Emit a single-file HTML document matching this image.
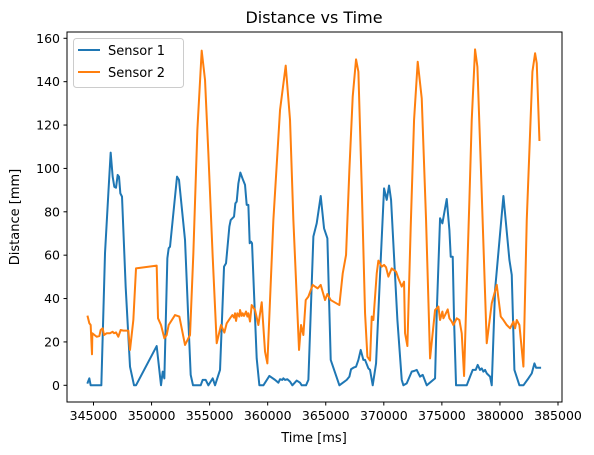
<!DOCTYPE html>
<html><head><meta charset="utf-8"><style>
html,body{margin:0;padding:0;background:#fff;}
svg{display:block;font-family:"DejaVu Sans","Liberation Sans",sans-serif;}
</style></head><body>
<svg id="chart" width="594" height="455" viewBox="0 0 594 455">
<rect x="0" y="0" width="594" height="455" fill="#fff"/>
<text x="314" y="23" text-anchor="middle" font-size="16" fill="#000">Distance vs Time</text>
<g id="xaxis"></g>
<g id="yaxis"></g>
<g id="series"></g>
<rect x="67" y="32" width="495" height="370" fill="none" stroke="#000" stroke-width="1"/>
<text x="314" y="442" text-anchor="middle" font-size="13">Time [ms]</text>
<text x="0" y="0" transform="translate(19,217) rotate(-90)" text-anchor="middle" font-size="13">Distance [mm]</text>
<g>
<rect x="73.5" y="38.5" width="110" height="49" rx="3" fill="#fff" fill-opacity="0.8" stroke="#ccc"/>
<g>
<line x1="78" y1="50" x2="100" y2="50" stroke="#1f77b4" stroke-width="2"/>
<text x="108" y="55" font-size="13">Sensor 1</text></g>
<g>
<line x1="78" y1="72" x2="100" y2="72" stroke="#ff7f0e" stroke-width="2"/>
<text x="108" y="77" font-size="13">Sensor 2</text></g>
</g>
</svg>
<script>
const xTicks=[345000,350000,355000,360000,365000,370000,375000,380000,385000];
const yTicks=[0,20,40,60,80,100,120,140,160];
const s1Time=[344498,344641,344756,345675,345991,346278,346479,346651,346795,346938,347082,347197,347312,347455,347771,348144,348489,348661,350441,350814,350958,351101,351360,351474,351589,351819,352192,352364,352881,353168,353369,353570,354231,354403,354661,354891,355264,355466,355896,356241,356413,356700,356815,357102,357216,357331,357475,357647,357877,358049,358193,358336,358451,358566,358652,358824,359054,359284,359629,360145,360633,360920,361064,361265,361351,361494,361695,361925,362126,362499,362786,362930,363303,363504,363935,364222,364566,364853,365140,365428,366174,366805,367035,367179,367380,367609,367810,368011,368241,368385,368672,368815,369045,369332,369734,370021,370251,370452,370624,371170,371543,371686,371973,372404,372605,372835,373122,373351,373696,374413,374557,374844,375045,375418,375648,375762,375934,376049,376221,377140,377427,377657,377915,378087,378288,378432,378576,378719,378863,379150,379294,379581,380299,380816,381017,381246,381677,382022,382453,382740,382970,383113,383458];
const s1Dist=[1.2,3.2,0,0,60.9,88.5,107.3,96.2,91.5,91.1,97,96.2,88.5,87,45.3,8.6,0,0,18.1,0,6.3,3.2,58.6,63.2,63.9,76.2,96.2,94.7,67,30.1,4.8,0,0,2.5,2.5,0,3.2,0,7.1,54.7,56.3,73.2,76.2,77.8,83.9,84.7,93.1,98.1,94.7,92.4,83.2,83.2,65.5,66.2,65.5,42.4,12.4,0,0,4.3,2.5,1.2,2.8,2.5,3.2,2.5,2.8,1.7,0,2.2,1.2,0,0,2.5,68.6,74.7,87.3,72.4,67.8,11.7,0,2.5,4,7.4,8.1,8.6,11.7,16.3,11.7,11.7,7.8,7.1,0,10.1,57.8,90.8,85.5,92.1,85.5,30.1,2.5,0,0.9,6.3,6.6,7.1,4,4.8,0,3.2,33.2,77,74.7,85.9,71.6,59.3,59.3,30.1,0,0,4,7.1,7.1,9.4,7.1,7.8,6.3,7.1,5.5,4,0,44,87.3,57.8,50.9,7.1,0,0,3.2,5.5,10.1,8.1,8.1];
const s2Time=[344498,344641,344756,344871,344900,345273,345503,345618,345790,345905,346134,346421,346651,346766,346938,347139,347340,347570,348001,348144,348431,348661,350441,350556,350814,351101,351302,351474,352020,352393,352881,353312,353599,353944,354317,354604,354891,355264,355609,355982,356269,356470,356757,356958,357102,357188,357274,357389,357561,357618,357762,357848,357963,358135,358250,358336,358479,358623,358910,359198,359485,359772,359973,360489,361064,361552,361925,362212,362499,362700,362872,363073,363274,363504,363877,364078,364308,364566,364939,365140,365428,366174,366461,366748,367035,367322,367609,367810,368098,368385,368586,368815,368959,369102,369390,369533,369820,370021,370193,370394,370681,371055,371256,371543,371743,371829,372030,372317,372605,372920,373265,373638,373983,374413,374700,374844,375045,375131,375275,375504,375648,375849,375992,376279,376509,376710,376911,377140,377370,377571,377858,378059,378346,378719,378863,379294,379725,380069,380299,380586,380874,381161,381304,381448,381677,382022,382309,382797,383027,383170,383400];
const s2Dist=[31.7,28.6,27.8,14.3,24,22.4,22.7,25.5,26.3,23.2,24,24,24.7,24,24.4,22.4,25.5,25.2,25.2,16.3,30.1,53.9,55.2,30.9,27.8,21.7,23.2,27.8,32.4,31.7,18.6,23.2,60.9,117.7,154.3,140.8,107,59.3,19.4,27.8,24.3,28.6,30.9,32.4,31.2,33.2,29.7,33.2,31.7,34.7,32,33.2,32,34,31.7,33.2,29.4,37,34.7,27.8,38.3,15.5,10.1,76.2,127,147.4,122.3,76.2,40.9,16.3,27.8,23.2,39.3,40.9,46.3,45.5,44.7,46.3,39.3,42.1,39.3,37,51.6,60.1,99.3,133.1,150.3,144.6,91.6,33.2,13.2,11.4,31.7,30.1,51.6,57.5,54.7,55.5,54.4,50.1,53.9,52.4,49.3,45.5,47.8,24,18.1,73.2,122.3,149.2,132.3,76.2,12.4,34.7,36.3,30.1,34,30.9,32.4,35,30.9,29.4,27.8,30.9,30.1,24,4.3,45.5,85.5,122.3,154.9,146.9,102.4,42.4,19.4,37.8,46.3,31.7,30.1,27.8,26.3,29.4,26.3,30.1,27.8,8.6,76.2,144.6,153.1,148.5,113.1];

const NS='http://www.w3.org/2000/svg';
const X0=93.5,X1=558,T0=345000,T1=385000,Y0=385.3,Y1=38.3;
function xs(t){return X0+(t-T0)*(X1-X0)/(T1-T0);}
function ys(v){return Y0+v*(Y1-Y0)/160;}
function mk(tag,attrs,parent){const e=document.createElementNS(NS,tag);for(const k in attrs)e.setAttribute(k,attrs[k]);parent.appendChild(e);return e;}
const xa=document.getElementById('xaxis'),ya=document.getElementById('yaxis'),sg=document.getElementById('series');
xTicks.forEach(t=>{
  const x=xs(t);
  const tk=mk('line',{x1:x,x2:x,y1:402,y2:405.5,stroke:'#000','stroke-width':1},xa);
  
  
  const lb=mk('text',{x:x,y:420,'text-anchor':'middle','font-size':'12.5'},xa);
  lb.textContent=String(t);
  
  
});
yTicks.forEach(v=>{
  const y=ys(v);
  const tk=mk('line',{x1:63.5,x2:67,y1:y,y2:y,stroke:'#000','stroke-width':1},ya);
  
  
  const lb=mk('text',{x:60,y:y+4.5,'text-anchor':'end','font-size':'12.5'},ya);
  lb.textContent=String(v);
  
  
});
function line(ts,vs,color,name){
  const d=ts.map((t,i)=>(i?'L':'M')+xs(t).toFixed(2)+','+ys(vs[i]).toFixed(2)).join(' ');
  const p=mk('path',{d:d,fill:'none',stroke:color,'stroke-width':2,'stroke-linejoin':'round','stroke-linecap':'square'},sg);
  
  
}
line(s1Time,s1Dist,'#1f77b4','sensor-1-line');
line(s2Time,s2Dist,'#ff7f0e','sensor-2-line');
</script>
</body></html>
